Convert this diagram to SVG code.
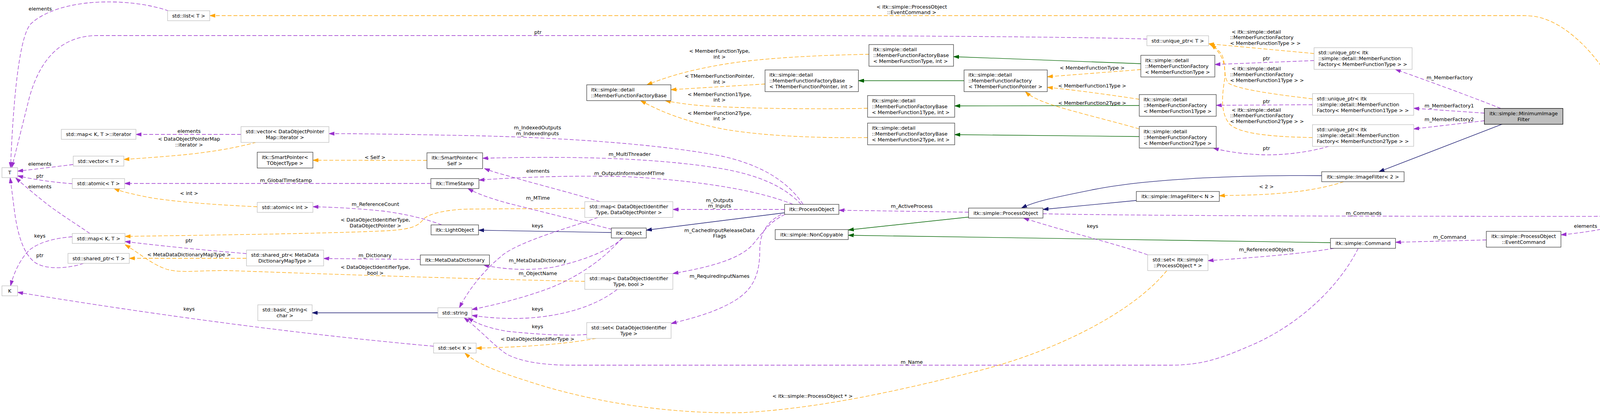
<svg xmlns="http://www.w3.org/2000/svg" width="4369" height="1062" viewBox="0 0 4369 1062">
<style>
text{font-family:"DejaVu Sans","Liberation Sans",sans-serif;font-size:12.8px;fill:#000}
.c{text-anchor:middle}
.node rect{fill:#fff;stroke:#404040;stroke-width:1.3}
.node.u rect{stroke:#bfbfbf}
.node.root rect{fill:#bfbfbf;stroke:#000}
.e{fill:none;stroke-width:1.3}
.pu{stroke:#9a32cd;stroke-dasharray:10,5;marker-end:url(#ap)}
.or{stroke:#ffa500;stroke-dasharray:10,5;marker-end:url(#ao)}
.bl{stroke:#191970;marker-end:url(#ab)}
.gr{stroke:#006400;marker-end:url(#ag)}
</style>
<defs>
<marker id="ap" viewBox="0 0 14 10" refX="14" refY="5" markerWidth="14" markerHeight="10" markerUnits="userSpaceOnUse" orient="auto"><path d="M0,0.5 L14,5 L0,9.5 z" fill="#9a32cd" stroke="#9a32cd" stroke-width="1"/></marker>
<marker id="ao" viewBox="0 0 14 10" refX="14" refY="5" markerWidth="14" markerHeight="10" markerUnits="userSpaceOnUse" orient="auto"><path d="M0,0.5 L14,5 L0,9.5 z" fill="#ffa500" stroke="#ffa500" stroke-width="1"/></marker>
<marker id="ab" viewBox="0 0 14 10" refX="14" refY="5" markerWidth="14" markerHeight="10" markerUnits="userSpaceOnUse" orient="auto"><path d="M0,0.5 L14,5 L0,9.5 z" fill="#191970" stroke="#191970" stroke-width="1"/></marker>
<marker id="ag" viewBox="0 0 14 10" refX="14" refY="5" markerWidth="14" markerHeight="10" markerUnits="userSpaceOnUse" orient="auto"><path d="M0,0.5 L14,5 L0,9.5 z" fill="#006400" stroke="#006400" stroke-width="1"/></marker>
</defs>
<rect x="0" y="0" width="4369" height="1062" fill="#fff"/>

<g id="connectors">
<g><path class="e pu" d="M432,28 C380,10 320,4 268,5 C180,6 110,30 78,62 C45,100 32,300 27,429"/><text class="c" x="103" y="27">elements</text></g>
<g><path class="e pu" d="M2936,100 C2800,95 2300,91 2000,91 L250,91 C150,91 100,160 75,250 C55,330 40,390 30,429"/><text class="c" x="1377" y="87">ptr</text></g>
<g><path class="e pu" d="M617,344 L348,344"/><text class="c" x="484" y="339.5">elements</text></g>
<g><path class="e or" d="M656,364 C600,380 520,392 450,398 C390,403 350,406 317,408"/><text class="c" x="484" y="360">&lt; DataObjectPointerMap</text><text class="c" x="484" y="375">::iterator &gt;</text></g>
<g><path class="e pu" d="M187,421 C140,427 90,433 45,438"/><text class="c" x="102" y="423.5">elements</text></g>
<g><path class="e pu" d="M185,470 C140,467 90,460 45,450"/><text class="c" x="102" y="454.5">ptr</text></g>
<g><path class="e pu" d="M230,597.5 C190,570 150,545 120,522 C90,498 62,475 40,455"/><text class="c" x="102" y="482">elements</text></g>
<g><path class="e pu" d="M214,674 C180,686 120,692 90,672 C60,650 45,600 37,540 C32,500 28,470 26,455"/><text class="c" x="102" y="658">ptr</text></g>
<g><path class="e pu" d="M185,606 C140,609 100,620 75,640 C50,665 35,700 27,731.5"/><text class="c" x="102" y="608">keys</text></g>
<g><path class="e pu" d="M1110,886 Q620,842 45,748"/><text class="c" x="484" y="795">keys</text></g>
<g><path class="e or" d="M1497,533 L1200,535 C1150,536 1100,545 1085,560 C1070,578 1060,585 1000,590 C850,598 500,602 320,605"/><text class="c" x="961" y="567">&lt; DataObjectIdentifierType,</text><text class="c" x="961" y="582">DataObjectPointer &gt;</text></g>
<g><path class="e or" d="M1497,720 C1200,714 800,700 600,693 C520,690 470,700 430,690 C390,678 360,650 320,626"/><text class="c" x="961" y="688">&lt; DataObjectIdentifierType,</text><text class="c" x="961" y="703">bool &gt;</text></g>
<g><path class="e pu" d="M631,649 C520,640 400,628 320,618"/><text class="c" x="484" y="619.5">ptr</text></g>
<g><path class="e or" d="M631,661 L331,661"/><text class="c" x="484" y="656">&lt; MetaDataDictionaryMapType &gt;</text></g>
<g><path class="e or" d="M658.5,529 C550,524 450,517 380,505 C340,497 310,490 292,482.5"/><text class="c" x="484" y="499">&lt; int &gt;</text></g>
<g><path class="e pu" d="M1103,469.5 L319,469.5"/><text class="c" x="732" y="466">m_GlobalTimeStamp</text></g>
<g><path class="e or" d="M1093,410.5 L801,410"/><text class="c" x="960" y="407">&lt; Self &gt;</text></g>
<g><path class="e pu" d="M1131,575.5 C1090,560 1040,548 980,540 C900,532 840,530 801,529"/><text class="c" x="961" y="527">m_ReferenceCount</text></g>
<g><path class="e bl" d="M1565,595 L1225,589"/></g>
<g><path class="e bl" d="M2008.5,544.5 L1654.5,589"/></g>
<g><path class="e pu" d="M2479.5,543 L2147.5,538"/><text class="c" x="2334" y="532">m_ActiveProcess</text></g>
<g><path class="e pu" d="M2008.5,536 L1722.5,536"/><text class="c" x="1842" y="516.5">m_Outputs</text><text class="c" x="1842" y="531">m_Inputs</text></g>
<g><path class="e pu" d="M2010,548.5 C1965,570 1950,600 1925,628 C1890,665 1810,685 1722.5,700"/><text class="c" x="1842" y="594">m_CachedInputReleaseData</text><text class="c" x="1842" y="608">Flags</text></g>
<g><path class="e pu" d="M2000,548.5 C1960,570 1945,600 1945,640 C1945,700 1930,740 1880,770 C1830,800 1770,815 1718,828"/><text class="c" x="1842" y="711">m_RequiredInputNames</text></g>
<g><path class="e pu" d="M2056,523 C2020,470 1960,425 1850,400 C1700,370 1450,352 1200,347 C1050,344 930,342 842,342"/><text class="c" x="1376" y="331">m_IndexedOutputs</text><text class="c" x="1376" y="346">m_IndexedInputs</text></g>
<g><path class="e pu" d="M2051,523 C2010,480 1950,450 1850,432 C1700,407 1500,398 1235.5,405"/><text class="c" x="1612" y="399">m_MultiThreader</text></g>
<g><path class="e pu" d="M2030,523 C1950,490 1800,462 1600,452 C1450,448 1300,455 1226,461"/><text class="c" x="1611" y="448">m_OutputInformationMTime</text></g>
<g><path class="e pu" d="M1567,587 C1480,565 1380,540 1300,520 C1250,506 1220,495 1198,482.5"/><text class="c" x="1377" y="511">m_MTime</text></g>
<g><path class="e pu" d="M1536,516 C1450,490 1350,465 1300,450 C1270,442 1255,437 1240,431"/><text class="c" x="1377" y="442">elements</text></g>
<g><path class="e pu" d="M1595,609 C1560,640 1500,665 1420,683 C1350,695 1280,688 1238,678"/><text class="c" x="1376" y="671">m_MetaDataDictionary</text></g>
<g><path class="e pu" d="M1592,609 C1550,660 1480,710 1400,740 C1330,765 1260,782 1208,792"/><text class="c" x="1377" y="704">m_ObjectName</text></g>
<g><path class="e pu" d="M1076,664 L828.5,661.5"/><text class="c" x="960" y="658">m_Dictionary</text></g>
<g><path class="e bl" d="M1121,800.5 L799,800.5"/></g>
<g><path class="e pu" d="M1531,556.5 C1450,585 1340,615 1290,650 C1240,690 1200,740 1176,787.5"/><text class="c" x="1376" y="582">keys</text></g>
<g><path class="e pu" d="M1580,740.5 C1530,780 1450,808 1350,814 C1290,817 1240,812 1208,807"/><text class="c" x="1376" y="795">keys</text></g>
<g><path class="e pu" d="M1502,856 C1450,860 1380,856 1300,848 C1250,840 1220,828 1198,813"/><text class="c" x="1376" y="840">keys</text></g>
<g><path class="e pu" d="M3477,635.5 C3430,730 3330,830 3200,885 C3130,915 3080,934 3000,934.5 L1460,934.5 C1390,934.5 1330,925 1295,905 C1260,880 1230,845 1188,813"/><text class="c" x="2334" y="931">m_Name</text></g>
<g><path class="e or" d="M2987,692.5 C2900,800 2700,900 2500,950 C2300,1000 2100,1045 1900,1056 C1700,1060 1500,1025 1350,975 C1270,950 1220,930 1190,903.5"/><text class="c" x="2080" y="1018">&lt; itk::simple::ProcessObject * &gt;</text></g>
<g><path class="e or" d="M1526,866 C1450,880 1350,888 1219,891"/><text class="c" x="1376" y="872">&lt; DataObjectIdentifierType &gt;</text></g>
<g><path class="e bl" d="M3383.5,449.5 C3200,448 2950,455 2800,485 C2700,505 2650,515 2615,532.5"/></g>
<g><path class="e bl" d="M2909,513 C2830,520 2750,528 2670,536"/></g>
<g><path class="e bl" d="M3845.8,317.7 L3530,439.5"/></g>
<g><path class="e or" d="M3440,465 C3380,485 3300,496 3200,499 C3160,500 3140,500 3121.5,501"/><text class="c" x="3242" y="482">&lt; 2 &gt;</text></g>
<g><path class="e pu" d="M3842,277.5 C3760,245 3650,205 3572,177.5"/><text class="c" x="3711" y="203">m_MemberFactory</text></g>
<g><path class="e pu" d="M3800,289.5 L3619,277"/><text class="c" x="3710" y="275">m_MemberFactory1</text></g>
<g><path class="e pu" d="M3800,309 L3619,330"/><text class="c" x="3710" y="310">m_MemberFactory2</text></g>
<g><path class="e pu" d="M3364,155 L3110,165"/><text class="c" x="3242" y="154">ptr</text></g>
<g><path class="e pu" d="M3360,268 L3113.5,269.5"/><text class="c" x="3242" y="264">ptr</text></g>
<g><path class="e pu" d="M3402,374.5 C3350,390 3280,398 3230,396 C3180,394 3140,388 3106,379"/><text class="c" x="3242" y="384">ptr</text></g>
<g><path class="e or" d="M3364,137 L3094,112"/><text x="3153" y="86">&lt; itk::simple::detail</text><text x="3149" y="100">::MemberFunctionFactory</text><text x="3149" y="115">&lt; MemberFunctionType &gt; &gt;</text></g>
<g><path class="e or" d="M3360,253 C3250,240 3170,228 3145,213 C3130,195 3140,165 3128,140 C3118,126 3108,118 3096,113"/><text x="3153" y="180">&lt; itk::simple::detail</text><text x="3149" y="195">::MemberFunctionFactory</text><text x="3149" y="210">&lt; MemberFunction1Type &gt; &gt;</text></g>
<g><path class="e or" d="M3360,352 C3250,350 3175,342 3148,318 C3125,290 3128,250 3134,210 C3140,170 3132,140 3100,114"/><text x="3153" y="286">&lt; itk::simple::detail</text><text x="3149" y="300">::MemberFunctionFactory</text><text x="3149" y="315">&lt; MemberFunction2Type &gt; &gt;</text></g>
<g><path class="e gr" d="M2920.5,163 L2441,145"/></g>
<g><path class="e or" d="M2920.5,178 L2681,196.5"/><text class="c" x="2796" y="178">&lt; MemberFunctionType &gt;</text></g>
<g><path class="e gr" d="M2916.5,270 L2444,271"/></g>
<g><path class="e or" d="M2916.5,254 C2850,244 2750,230 2681,223.5"/><text class="c" x="2796" y="224">&lt; MemberFunction1Type &gt;</text></g>
<g><path class="e gr" d="M2916.5,349.5 L2444,344.5"/></g>
<g><path class="e or" d="M2916.5,330 C2850,310 2720,280 2670,260 C2645,250 2633,242 2625,234.5"/><text class="c" x="2796" y="268">&lt; MemberFunction2Type &gt;</text></g>
<g><path class="e gr" d="M2468,206.5 L2197.5,206.5"/></g>
<g><path class="e or" d="M2224.5,139 C2100,141 1950,148 1850,165 C1750,182 1700,200 1656,217"/><text class="c" x="1842" y="135">&lt; MemberFunctionType,</text><text class="c" x="1842" y="150">int &gt;</text></g>
<g><path class="e or" d="M1958.5,215 L1717.5,229.5"/><text class="c" x="1842" y="199">&lt; TMemberFunctionPointer,</text><text class="c" x="1842" y="214">int &gt;</text></g>
<g><path class="e or" d="M2221,277 C2100,280 1900,278 1791,270 C1750,266 1725,262 1703,257.5"/><text class="c" x="1842" y="246">&lt; MemberFunction1Type,</text><text class="c" x="1842" y="260">int &gt;</text></g>
<g><path class="e or" d="M2221,352 C2100,354 1950,348 1850,330 C1750,310 1690,285 1640,257.5"/><text class="c" x="1842" y="294">&lt; MemberFunction2Type,</text><text class="c" x="1842" y="308">int &gt;</text></g>
<g><path class="e gr" d="M2479.5,555.5 L2171.5,588.5"/></g>
<g><path class="e gr" d="M3406,621 L2171.5,602"/></g>
<g><path class="e pu" d="M2670,547 C2900,552 3500,554 4114.5,553.5"/><text class="c" x="3491" y="550">m_Commands</text></g>
<g><path class="e pu" d="M2938,652 C2860,625 2720,590 2620,558"/><text class="c" x="2797" y="583">keys</text></g>
<g><path class="e pu" d="M3415,635.5 C3330,650 3200,660 3092.5,667"/><text class="c" x="3242" y="643">m_ReferencedObjects</text></g>
<g><path class="e pu" d="M3805,614 L3572.5,620"/><text class="c" x="3711" y="610.5">m_Command</text></g>
<g><path class="e pu" d="M4157,574 C4100,588 4050,596 3996,601"/><text class="c" x="4059" y="583">elements</text></g>
<g><path class="e or" d="M4236,533.5 C4225,480 4200,410 4180,345 C4160,280 4140,230 4110,185 C4080,140 4040,95 3990,65 C3960,48 3935,40 3900,40 L537,40"/><text class="c" x="2334" y="22">&lt; itk::simple::ProcessObject</text><text class="c" x="2334" y="36">::EventCommand &gt;</text></g>
</g>

<g id="n-T" class="node u"><rect x="5" y="429" width="40" height="25.5"/><text class="c" x="25" y="446.25">T</text></g>
<g id="n-K" class="node u"><rect x="5" y="731.5" width="40" height="25.5"/><text class="c" x="25" y="748.75">K</text></g>
<g id="n-listT" class="node u"><rect x="429" y="27.5" width="108" height="25.5"/><text class="c" x="483" y="44.75">std::list&lt; T &gt;</text></g>
<g id="n-mapIter" class="node u"><rect x="157" y="331" width="191" height="25.5"/><text class="c" x="252.5" y="348.25">std::map&lt; K, T &gt;::iterator</text></g>
<g id="n-vecT" class="node u"><rect x="187.5" y="399.5" width="129.5" height="25.5"/><text class="c" x="252.25" y="416.75">std::vector&lt; T &gt;</text></g>
<g id="n-atomicT" class="node u"><rect x="185" y="457" width="134" height="25.5"/><text class="c" x="252" y="474.25">std::atomic&lt; T &gt;</text></g>
<g id="n-mapKT" class="node u"><rect x="185" y="597.5" width="135" height="25.5"/><text class="c" x="252.5" y="614.75">std::map&lt; K, T &gt;</text></g>
<g id="n-sharedT" class="node u"><rect x="174" y="648.5" width="157" height="25.5"/><text class="c" x="252.5" y="665.75">std::shared_ptr&lt; T &gt;</text></g>
<g id="n-vecDOPM" class="node u"><rect x="617" y="324" width="225" height="40.5"/><text class="c" x="729.5" y="341.25">std::vector&lt; DataObjectPointer</text><text class="c" x="729.5" y="356.25">Map::iterator &gt;</text></g>
<g id="n-spTOT" class="node"><rect x="658.5" y="389.5" width="142.5" height="40.5"/><text class="c" x="729.75" y="406.75">itk::SmartPointer&lt;</text><text class="c" x="729.75" y="421.75">TObjectType &gt;</text></g>
<g id="n-atomicInt" class="node u"><rect x="658.5" y="518" width="142.5" height="25.5"/><text class="c" x="729.75" y="535.25">std::atomic&lt; int &gt;</text></g>
<g id="n-sharedMDD" class="node u"><rect x="631" y="640" width="197.5" height="40.5"/><text class="c" x="729.75" y="657.25">std::shared_ptr&lt; MetaData</text><text class="c" x="729.75" y="672.25">DictionaryMapType &gt;</text></g>
<g id="n-basicString" class="node u"><rect x="660" y="780" width="139" height="40.5"/><text class="c" x="729.5" y="797.25">std::basic_string&lt;</text><text class="c" x="729.5" y="812.25">char &gt;</text></g>
<g id="n-spSelf" class="node"><rect x="1093" y="391" width="142.5" height="40.5"/><text class="c" x="1164.25" y="408.25">itk::SmartPointer&lt;</text><text class="c" x="1164.25" y="423.25">Self &gt;</text></g>
<g id="n-timeStamp" class="node"><rect x="1103" y="457" width="123" height="25.5"/><text class="c" x="1164.5" y="474.25">itk::TimeStamp</text></g>
<g id="n-lightObject" class="node"><rect x="1103.5" y="575.5" width="121.5" height="25.5"/><text class="c" x="1164.25" y="592.75">itk::LightObject</text></g>
<g id="n-mdd" class="node"><rect x="1076" y="652.5" width="177" height="25.5"/><text class="c" x="1164.5" y="669.75">itk::MetaDataDictionary</text></g>
<g id="n-string" class="node u"><rect x="1121" y="787.5" width="87" height="25.5"/><text class="c" x="1164.5" y="804.75">std::string</text></g>
<g id="n-setK" class="node u"><rect x="1110" y="878" width="109" height="25.5"/><text class="c" x="1164.5" y="895.25">std::set&lt; K &gt;</text></g>
<g id="n-mffBase" class="node"><rect x="1502" y="217" width="215.5" height="40.5"/><text x="1513" y="234.25">itk::simple::detail</text><text x="1513" y="249.25">::MemberFunctionFactoryBase</text></g>
<g id="n-mapDOP" class="node u"><rect x="1497" y="516" width="225.5" height="40.5"/><text class="c" x="1609.75" y="533.25">std::map&lt; DataObjectIdentifier</text><text class="c" x="1609.75" y="548.25">Type, DataObjectPointer &gt;</text></g>
<g id="n-object" class="node"><rect x="1565" y="583.5" width="89.5" height="25.5"/><text class="c" x="1609.75" y="600.75">itk::Object</text></g>
<g id="n-mapBool" class="node u"><rect x="1497" y="700" width="225.5" height="40.5"/><text class="c" x="1609.75" y="717.25">std::map&lt; DataObjectIdentifier</text><text class="c" x="1609.75" y="732.25">Type, bool &gt;</text></g>
<g id="n-setDOIT" class="node u"><rect x="1502" y="825.5" width="216" height="40.5"/><text class="c" x="1610" y="842.75">std::set&lt; DataObjectIdentifier</text><text class="c" x="1610" y="857.75">Type &gt;</text></g>
<g id="n-itkPO" class="node"><rect x="2008.5" y="523" width="139" height="25.5"/><text class="c" x="2078" y="540.25">itk::ProcessObject</text></g>
<g id="n-nonCopyable" class="node"><rect x="1984.5" y="587.5" width="187" height="25.5"/><text class="c" x="2078" y="604.75">itk::simple::NonCopyable</text></g>
<g id="n-fbMFT" class="node"><rect x="2224.5" y="114" width="216.5" height="55.5"/><text x="2235.5" y="131.25">itk::simple::detail</text><text x="2235.5" y="146.25">::MemberFunctionFactoryBase</text><text x="2235.5" y="161.25">&lt; MemberFunctionType, int &gt;</text></g>
<g id="n-fbTMFP" class="node"><rect x="1958.5" y="179" width="239" height="55.5"/><text x="1969.5" y="196.25">itk::simple::detail</text><text x="1969.5" y="211.25">::MemberFunctionFactoryBase</text><text x="1969.5" y="226.25">&lt; TMemberFunctionPointer, int &gt;</text></g>
<g id="n-fbMF1" class="node"><rect x="2221" y="244.5" width="223" height="55.5"/><text x="2232" y="261.75">itk::simple::detail</text><text x="2232" y="276.75">::MemberFunctionFactoryBase</text><text x="2232" y="291.75">&lt; MemberFunction1Type, int &gt;</text></g>
<g id="n-fbMF2" class="node"><rect x="2221" y="315" width="223" height="55.5"/><text x="2232" y="332.25">itk::simple::detail</text><text x="2232" y="347.25">::MemberFunctionFactoryBase</text><text x="2232" y="362.25">&lt; MemberFunction2Type, int &gt;</text></g>
<g id="n-fTMFP" class="node"><rect x="2468" y="179" width="213" height="55.5"/><text x="2479" y="196.25">itk::simple::detail</text><text x="2479" y="211.25">::MemberFunctionFactory</text><text x="2479" y="226.25">&lt; TMemberFunctionPointer &gt;</text></g>
<g id="n-sPO" class="node"><rect x="2479.5" y="532.5" width="190.5" height="25.5"/><text class="c" x="2574.75" y="549.75">itk::simple::ProcessObject</text></g>
<g id="n-uptrT" class="node u"><rect x="2936" y="91.5" width="158" height="25.5"/><text class="c" x="3015" y="108.75">std::unique_ptr&lt; T &gt;</text></g>
<g id="n-fMFT" class="node"><rect x="2920.5" y="141.5" width="189.5" height="55.5"/><text x="2931.5" y="158.75">itk::simple::detail</text><text x="2931.5" y="173.75">::MemberFunctionFactory</text><text x="2931.5" y="188.75">&lt; MemberFunctionType &gt;</text></g>
<g id="n-fMF1" class="node"><rect x="2916.5" y="242" width="197" height="55.5"/><text x="2927.5" y="259.25">itk::simple::detail</text><text x="2927.5" y="274.25">::MemberFunctionFactory</text><text x="2927.5" y="289.25">&lt; MemberFunction1Type &gt;</text></g>
<g id="n-fMF2" class="node"><rect x="2916.5" y="323.5" width="197" height="55.5"/><text x="2927.5" y="340.75">itk::simple::detail</text><text x="2927.5" y="355.75">::MemberFunctionFactory</text><text x="2927.5" y="370.75">&lt; MemberFunction2Type &gt;</text></g>
<g id="n-uMFT" class="node u"><rect x="3364" y="122" width="251" height="55.5"/><text x="3375" y="139.25">std::unique_ptr&lt; itk</text><text x="3375" y="154.25">::simple::detail::MemberFunction</text><text x="3375" y="169.25">Factory&lt; MemberFunctionType &gt; &gt;</text></g>
<g id="n-uMF1" class="node u"><rect x="3360" y="239.5" width="259" height="55.5"/><text x="3371" y="256.75">std::unique_ptr&lt; itk</text><text x="3371" y="271.75">::simple::detail::MemberFunction</text><text x="3371" y="286.75">Factory&lt; MemberFunction1Type &gt; &gt;</text></g>
<g id="n-uMF2" class="node u"><rect x="3360" y="319" width="259" height="55.5"/><text x="3371" y="336.25">std::unique_ptr&lt; itk</text><text x="3371" y="351.25">::simple::detail::MemberFunction</text><text x="3371" y="366.25">Factory&lt; MemberFunction2Type &gt; &gt;</text></g>
<g id="n-if2" class="node"><rect x="3383.5" y="439.5" width="211" height="25.5"/><text class="c" x="3489" y="456.75">itk::simple::ImageFilter&lt; 2 &gt;</text></g>
<g id="n-ifN" class="node"><rect x="2909" y="490" width="212.5" height="25.5"/><text class="c" x="3015.25" y="507.25">itk::simple::ImageFilter&lt; N &gt;</text></g>
<g id="n-setSPO" class="node u"><rect x="2938" y="652" width="154.5" height="40.5"/><text class="c" x="3015.25" y="669.25">std::set&lt; itk::simple</text><text class="c" x="3015.25" y="684.25">::ProcessObject * &gt;</text></g>
<g id="n-command" class="node"><rect x="3406" y="610" width="166.5" height="25.5"/><text class="c" x="3489.25" y="627.25">itk::simple::Command</text></g>
<g id="n-mif" class="node root"><rect x="3800" y="277.5" width="201" height="40.5"/><text class="c" x="3900.5" y="294.75">itk::simple::MinimumImage</text><text class="c" x="3900.5" y="309.75">Filter</text></g>
<g id="n-eventCmd" class="node"><rect x="3805" y="592" width="191" height="40.5"/><text class="c" x="3900.5" y="609.25">itk::simple::ProcessObject</text><text class="c" x="3900.5" y="624.25">::EventCommand</text></g>
<g id="n-listEC" class="node u"><rect x="4114.5" y="533.5" width="250" height="40.5"/><text x="4125.5" y="550.75">std::list&lt; itk::simple</text><text x="4125.5" y="565.75">::ProcessObject::EventCommand &gt;</text></g>
</svg>
